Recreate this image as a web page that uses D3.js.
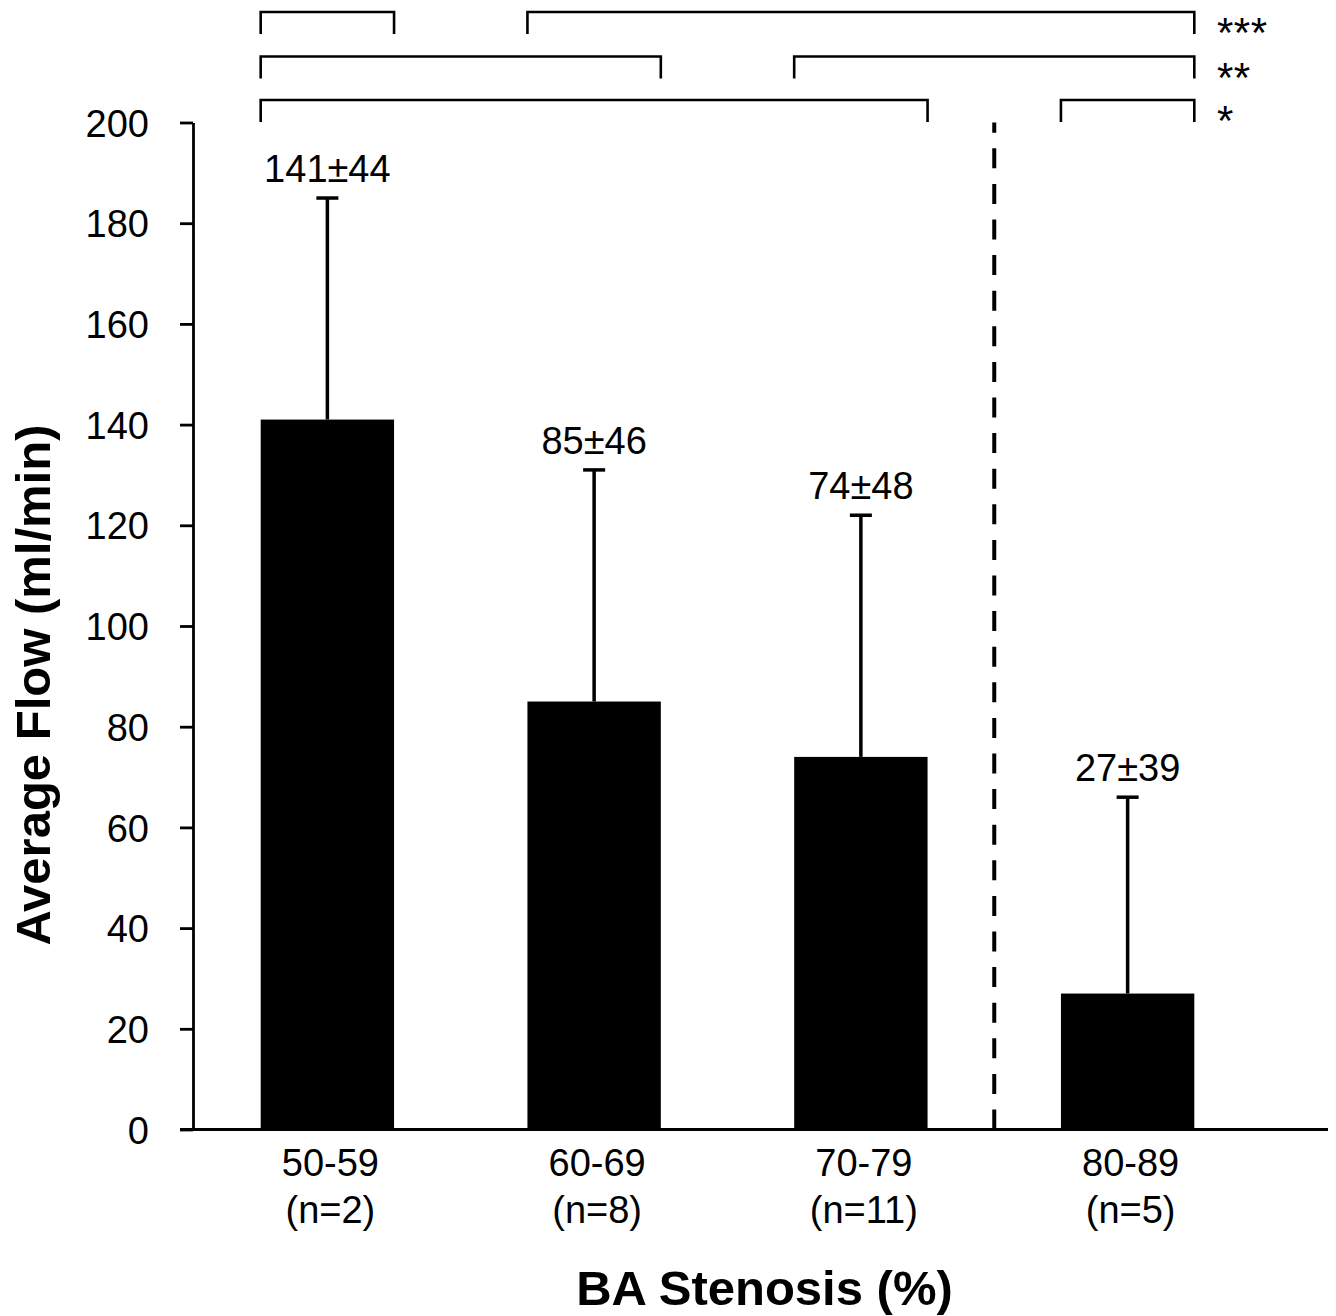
<!DOCTYPE html>
<html>
<head>
<meta charset="utf-8">
<script src="https://cdn.jsdelivr.net/npm/d3@7"></script>
<style>
  html, body { margin: 0; padding: 0; background: #fff; }
  svg { display: block; font-family: "Liberation Sans", Arial, Helvetica, sans-serif; }
</style>
</head>
<body>
<svg id="chart" width="1336" height="1316"></svg>
<script>
// ---- data ----
const categories = ["50-59", "60-69", "70-79", "80-89"];
const sampleSizes = ["(n=2)", "(n=8)", "(n=11)", "(n=5)"];
const meanFlow = [141, 85, 74, 27];
const sdFlow = [44, 46, 48, 39];
const yTicks = [0, 20, 40, 60, 80, 100, 120, 140, 160, 180, 200];
// significance brackets: [from category index, to category index, row]
const bracketFrom = [0, 1, 0, 2, 0, 3];
const bracketTo   = [0, 3, 1, 3, 2, 3];
const bracketRow  = [0, 0, 1, 1, 2, 2];
const rowLabels = ["***", "**", "*"];

// ---- layout ----
const svg = d3.select("#chart");
const axisX = 193, axisRight = 1328;
const yTop = 122.5, yBottom = 1129.5;

const x = d3.scaleBand()
  .domain(categories)
  .range([194, 1261])
  .paddingInner(0.5)
  .paddingOuter(0.25);

const y = d3.scaleLinear().domain([0, 200]).range([yBottom, yTop]);

const data = categories.map((c, i) => ({ c, n: sampleSizes[i], m: meanFlow[i], sd: sdFlow[i] }));

// Y axis
const yAxis = d3.axisLeft(y).tickValues(yTicks).tickSize(13).tickSizeOuter(0).tickPadding(31);
const gy = svg.append("g").attr("transform", `translate(${axisX},0)`).call(yAxis);
gy.select(".domain").attr("stroke", "#000").attr("stroke-width", 2.8);
gy.selectAll(".tick line").attr("stroke", "#000").attr("stroke-width", 2.8);
gy.selectAll(".tick text").attr("font-size", 38).attr("fill", "#000").attr("dy", "0.36em");

// X axis baseline
svg.append("line")
  .attr("x1", axisX - 13).attr("x2", axisRight)
  .attr("y1", y(0)).attr("y2", y(0))
  .attr("stroke", "#000").attr("stroke-width", 2.8);

// Bars
svg.append("g").selectAll("rect").data(data).join("rect")
  .attr("x", d => x(d.c))
  .attr("width", x.bandwidth())
  .attr("y", d => y(d.m))
  .attr("height", d => y(0) - y(d.m))
  .attr("fill", "#000");

// Error bars
const eb = svg.append("g").selectAll("g").data(data).join("g");
eb.append("line")
  .attr("x1", d => x(d.c) + x.bandwidth() / 2)
  .attr("x2", d => x(d.c) + x.bandwidth() / 2)
  .attr("y1", d => y(d.m))
  .attr("y2", d => y(d.m + d.sd))
  .attr("stroke", "#000").attr("stroke-width", 3.5);
eb.append("line")
  .attr("x1", d => x(d.c) + x.bandwidth() / 2 - 11)
  .attr("x2", d => x(d.c) + x.bandwidth() / 2 + 11)
  .attr("y1", d => y(d.m + d.sd))
  .attr("y2", d => y(d.m + d.sd))
  .attr("stroke", "#000").attr("stroke-width", 3.5);

// Value labels
svg.append("g").selectAll("text").data(data).join("text")
  .attr("x", d => x(d.c) + x.bandwidth() / 2)
  .attr("y", d => y(d.m + d.sd) - 16)
  .attr("text-anchor", "middle")
  .attr("font-size", 38)
  .text(d => `${d.m}±${d.sd}`);

// Category labels
const cl = svg.append("g").selectAll("text").data(data).join("text")
  .attr("text-anchor", "middle")
  .attr("font-size", 38);
cl.append("tspan")
  .attr("x", d => x(d.c) + x.bandwidth() / 2 + 3)
  .attr("y", 1176)
  .text(d => d.c);
cl.append("tspan")
  .attr("x", d => x(d.c) + x.bandwidth() / 2 + 3)
  .attr("y", 1223)
  .text(d => d.n);

// Dashed separator (drawn from the axis upward)
const sepX = (x(categories[2]) + x.bandwidth() + x(categories[3])) / 2;
svg.append("line")
  .attr("x1", sepX).attr("x2", sepX)
  .attr("y1", yBottom).attr("y2", yTop)
  .attr("stroke", "#000").attr("stroke-width", 4)
  .attr("stroke-dasharray", "20,15.6");

// Significance brackets
const rowY = [12, 56.5, 100];
const drop = 22;
const bg = svg.append("g");
bracketFrom.forEach((a, i) => {
  const x1 = x(categories[a]);
  const x2 = x(categories[bracketTo[i]]) + x.bandwidth();
  const yy = rowY[bracketRow[i]];
  bg.append("path")
    .attr("d", `M${x1},${yy + drop}V${yy}H${x2}V${yy + drop}`)
    .attr("fill", "none").attr("stroke", "#000").attr("stroke-width", 2.6);
});
rowLabels.forEach((s, r) => {
  bg.append("text")
    .attr("x", 1217)
    .attr("y", rowY[r] + 35)
    .attr("font-size", 42)
    .attr("letter-spacing", 0.5)
    .text(s);
});

// Axis titles
svg.append("text")
  .attr("x", 764.5).attr("y", 1305)
  .attr("text-anchor", "middle")
  .attr("font-size", 49).attr("font-weight", "bold")
  .text("BA Stenosis (%)");
svg.append("text")
  .attr("transform", "translate(50,685) rotate(-90)")
  .attr("text-anchor", "middle")
  .attr("font-size", 49).attr("font-weight", "bold")
  .text("Average Flow (ml/min)");
</script>
</body>
</html>
